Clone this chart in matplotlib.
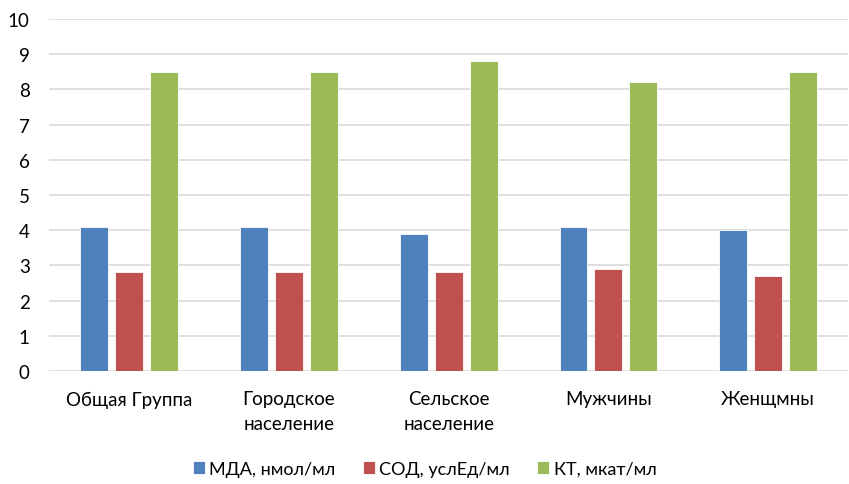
import matplotlib
matplotlib.use("Agg")
import matplotlib.pyplot as plt
import numpy as np

categories = ["Общая Группа", "Городское\nнаселение", "Сельское\nнаселение", "Мужчины", "Женщмны"]
series_names = ["МДА, нмол/мл", "СОД, услЕд/мл", "КТ, мкат/мл"]
mda = [4.1, 4.1, 3.9, 4.1, 4.0]
sod = [2.8, 2.8, 2.8, 2.9, 2.7]
kt = [8.5, 8.5, 8.8, 8.2, 8.5]
colors = ["#4F81BD", "#C0504D", "#9BBB59"]
yticks = list(range(0, 11))

plt.rcParams['font.family'] = ['Lato', 'DejaVu Sans']

fig = plt.figure(figsize=(8.49, 4.85), dpi=100)
ax = fig.add_axes([0.058, 0.233, 0.941, 0.726])

x = np.arange(len(categories))
w = 0.175
gap = 0.044
for i, (vals, name, c) in enumerate(zip([mda, sod, kt], series_names, colors)):
    offs = (i - 1) * (w + gap)
    ax.bar(x + offs, vals, width=w, color=c, label=name, edgecolor="white", linewidth=0.6, zorder=3)

ax.set_xlim(-0.5, len(categories) - 0.5)
ax.set_ylim(0, 10)
ax.set_yticks(yticks)
ax.yaxis.grid(True, color="#D9D9D9", linewidth=1.2, zorder=0)
ax.set_axisbelow(True)
for s in ax.spines.values():
    s.set_visible(False)
ax.tick_params(axis='both', length=0, labelsize=13.5, colors="#000000")
ax.tick_params(axis='y', pad=14)
ax.tick_params(axis='x', pad=14)
ax.set_xticks(x)
ax.set_xticklabels(categories, linespacing=1.55)

fig.legend(loc="center", bbox_to_anchor=(0.5, 0.031), ncol=3, frameon=False,
           fontsize=13, handlelength=0.67, handleheight=0.67, handletextpad=0.25, columnspacing=1.5)

fig.savefig("out.png", dpi=100, facecolor="white")
